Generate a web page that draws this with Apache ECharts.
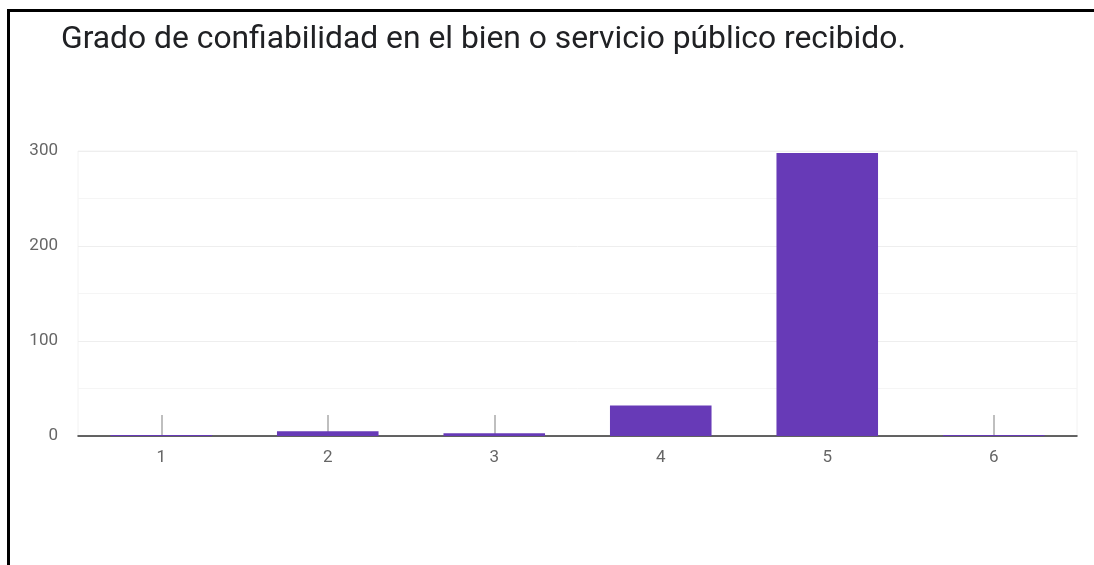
<!DOCTYPE html>
<html>
<head>
<meta charset="utf-8">
<script src="https://cdn.jsdelivr.net/npm/echarts@6/dist/echarts.min.js"></script>
<style>
  html, body { margin: 0; padding: 0; background: #fff; }
  #chart { width: 1094px; height: 565px; }
</style>
</head>
<body>
<div id="chart"></div>
<script>
// Respuestas por nivel de confiabilidad
const categories = ['1', '2', '3', '4', '5', '6'];
const responses = [1, 5, 3, 32, 298, 1];
const titleText = 'Grado de confiabilidad en el bien o servicio público recibido.';

const chart = echarts.init(document.getElementById('chart'), null, { renderer: 'canvas' });

chart.setOption({
  backgroundColor: '#ffffff',
  animation: false,
  title: {
    text: titleText,
    left: 56,
    top: 19,
    textStyle: {
      fontFamily: 'Roboto',
      fontSize: 31.8,
      fontWeight: 'normal',
      color: '#202124'
    }
  },
  graphic: [
    { type: 'rect', shape: { x: 7, y: 9, width: 1087, height: 3 }, style: { fill: '#000' } },
    { type: 'rect', shape: { x: 7, y: 9, width: 3, height: 556 }, style: { fill: '#000' } }
  ],
  grid: {
    left: 78,
    right: 17,
    top: 151,
    bottom: 129,
    show: true,
    borderColor: '#f2f2f2',
    borderWidth: 1
  },
  xAxis: {
    type: 'category',
    data: categories,
    axisLine: { lineStyle: { color: '#333', width: 1.5 } },
    axisTick: {
      show: true,
      alignWithLabel: true,
      inside: true,
      length: 21,
      lineStyle: { color: '#aaaaaa', width: 1.5 }
    },
    axisLabel: {
      margin: 13,
      fontFamily: 'Roboto',
      fontSize: 17,
      color: '#666'
    },
    z: 1
  },
  yAxis: {
    type: 'value',
    min: 0,
    max: 300,
    interval: 100,
    axisLine: { show: false },
    axisTick: { show: false },
    axisLabel: {
      margin: 20,
      fontFamily: 'Roboto',
      fontSize: 17,
      color: '#666'
    },
    splitLine: { lineStyle: { color: '#eeeeee', width: 1 } },
    minorTick: { show: false, splitNumber: 2 },
    minorSplitLine: { show: true, lineStyle: { color: '#f5f5f5', width: 1 } }
  },
  series: [{
    type: 'bar',
    data: responses,
    barCategoryGap: '39%',
    itemStyle: { color: '#673ab7' },
    z: 3
  }]
});
</script>
</body>
</html>
